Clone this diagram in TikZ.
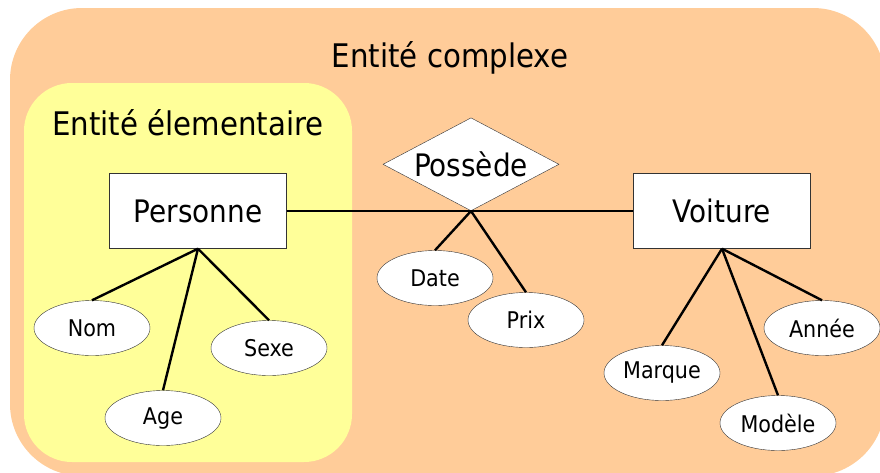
\documentclass[tikz,border=0pt]{standalone}
\usepackage{fontspec}
\setmainfont{DejaVu Sans Condensed}
\usetikzlibrary{shapes.geometric}
\definecolor{peach}{HTML}{FFCC99}
\definecolor{paleyellow}{HTML}{FFFF99}

\begin{document}
\begin{tikzpicture}[x=1pt, y=-1pt]
    \tikzstyle{entity} = [draw=black!80, fill=white, minimum width=177pt, minimum height=75pt, font=\fontsize{31}{37}\selectfont]
    \tikzstyle{attribute} = [draw=black!80, fill=white, ellipse, minimum width=116pt, minimum height=55pt, inner sep=0pt, font=\fontsize{23}{28}\selectfont]
    \tikzstyle{relation} = [draw=black!80, fill=white, diamond, shape aspect=1.9, minimum width=176pt, minimum height=93pt, inner sep=0pt, font=\fontsize{31}{37}\selectfont]
    \tikzstyle{title} = [anchor=base, font=\fontsize{32.5}{39}\selectfont]
    \tikzstyle{link} = [line width=2.4pt]
    \useasboundingbox (0, 0) rectangle (880, 472);
    % zones
    \fill[peach, rounded corners=72pt] (10, 8) rectangle (885, 476);
    \fill[paleyellow, rounded corners=48pt] (24, 83) rectangle (352, 462);
    \node[title] (complexe) at (450, 67) {Entité complexe};
    \node[title] (elementaire) at (188, 135) {Entité élementaire};
    % entities and relation
    \node[entity] (personne) at (198, 211) {Personne};
    \node[entity] (voiture) at (722, 211) {Voiture};
    \node[relation, anchor=south] (possede) at (471, 211) {Possède};
    % attributes
    \node[attribute] (nom) at (92, 328) {Nom};
    \node[attribute] (sexe) at (269, 348) {Sexe};
    \node[attribute] (age) at (163, 418) {Age};
    \node[attribute] (date) at (435, 278) {Date};
    \node[attribute] (prix) at (526, 320) {Prix};
    \node[attribute] (marque) at (662, 373) {Marque};
    \node[attribute] (modele) at (778, 423) {Modèle};
    \node[attribute] (annee) at (822, 328) {Année};
    % links
    \draw[link] (personne.east) -- (voiture.west);
    \draw[link] (possede.south) -- (date.north);
    \draw[link] (possede.south) -- (prix.north);
    \draw[link] (personne.south) -- (nom.north);
    \draw[link] (personne.south) -- (age.north);
    \draw[link] (personne.south) -- (sexe.north);
    \draw[link] (voiture.south) -- (marque.north);
    \draw[link] (voiture.south) -- (modele.north);
    \draw[link] (voiture.south) -- (annee.north);
\end{tikzpicture}
\end{document}
